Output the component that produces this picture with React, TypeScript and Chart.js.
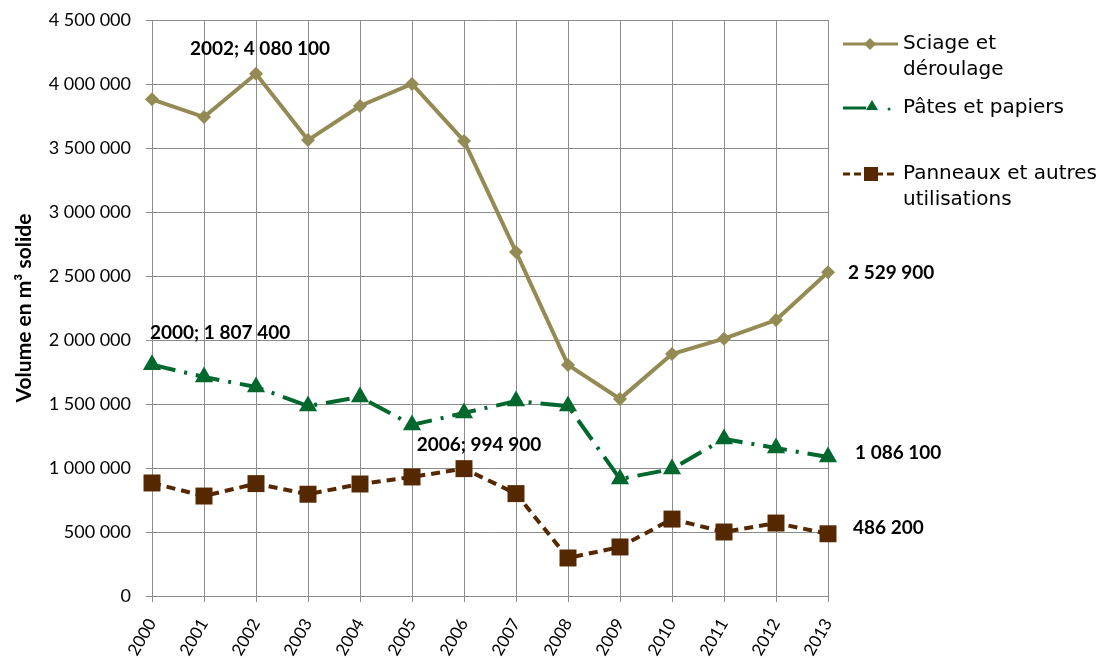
import React, { useEffect, useRef } from "react";
import { Chart, registerables } from "chart.js";

Chart.register(...registerables);

const years = ["2000","2001","2002","2003","2004","2005","2006","2007","2008","2009","2010","2011","2012","2013"];
const sciage = [3880000, 3742000, 4080100, 3562000, 3828000, 4000000, 3555000, 2688000, 1805000, 1540000, 1890000, 2010000, 2156000, 2529900];
const pates = [1807400, 1711000, 1633000, 1484000, 1555000, 1336000, 1430000, 1523000, 1484000, 914000, 992000, 1227000, 1156000, 1086100];
const panneaux = [883000, 781000, 878000, 795000, 875000, 930000, 994900, 800000, 297000, 383000, 601000, 500000, 570000, 486200];
const seriesNames = ["Sciage et déroulage", "Pâtes et papiers", "Panneaux et autres utilisations"];
const legendLines = [["Sciage et", "déroulage"], ["Pâtes et papiers"], ["Panneaux et autres", "utilisations"]];
const colors = ["#948A54", "#00682D", "#562800"];
const yTitle = "Volume en m³ solide";

const fmt = (v: number) => String(Math.round(v)).replace(/\B(?=(\d{3})+(?!\d))/g, " ");

const annotations: [number, number, string][] = [
  [0, 2, "yearval"],
  [1, 0, "yearval"],
  [2, 6, "yearval"],
  [0, 13, "val"],
  [1, 13, "val"],
  [2, 13, "val"],
];
const annOffsets: [number, number, CanvasTextAlign][] = [
  [4, -25, "center"],
  [-2, -32, "left"],
  [15, -24, "center"],
  [20, 1, "left"],
  [27, -4, "left"],
  [25, -6, "left"],
];

const labelFont = "bold 19px Lato, sans-serif";
const tickFont = { family: "Lato, sans-serif", size: 18 };

const annPlugin = {
  id: "annPlugin",
  afterDatasetsDraw(chart: any) {
    const ctx = chart.ctx;
    ctx.save();
    ctx.font = labelFont;
    ctx.fillStyle = "#000";
    ctx.textBaseline = "middle";
    annotations.forEach(([di, pi, kind], k) => {
      const el = chart.getDatasetMeta(di).data[pi];
      const val = chart.data.datasets[di].data[pi];
      const text = kind === "yearval" ? `${years[pi]}; ${fmt(val)}` : fmt(val);
      const [dx, dy, align] = annOffsets[k];
      ctx.textAlign = align;
      ctx.fillText(text, el.x + dx, el.y + dy);
    });
    ctx.restore();
  },
};

const legendPlugin = {
  id: "customLegend",
  afterDraw(chart: any) {
    const ctx = chart.ctx;
    const x0 = 843, x1 = 898, tx = 903;
    const ys = [44, 108, 174];
    ctx.save();
    ctx.font = "20px 'DejaVu Sans', sans-serif";
    ctx.textBaseline = "middle";
    ctx.textAlign = "left";
    ys.forEach((y, i) => {
      ctx.strokeStyle = colors[i];
      ctx.fillStyle = colors[i];
      ctx.lineWidth = 3;
      if (i === 0) {
        ctx.setLineDash([]);
        ctx.beginPath(); ctx.moveTo(x0, y); ctx.lineTo(x1, y); ctx.stroke();
        const r = 6;
        ctx.beginPath(); ctx.moveTo(870, y - r); ctx.lineTo(870 + r, y); ctx.lineTo(870, y + r); ctx.lineTo(870 - r, y); ctx.closePath(); ctx.fill();
      } else if (i === 1) {
        ctx.setLineDash([]);
        ctx.beginPath(); ctx.moveTo(x0, y); ctx.lineTo(866, y); ctx.stroke();
        ctx.beginPath(); ctx.moveTo(872, y - 8); ctx.lineTo(878, y + 2); ctx.lineTo(866, y + 2); ctx.closePath(); ctx.fill();
        ctx.beginPath(); ctx.arc(889, y + 1, 1.5, 0, Math.PI * 2); ctx.fill();
      } else {
        ctx.setLineDash([7, 4]);
        ctx.beginPath(); ctx.moveTo(x0, y); ctx.lineTo(x1, y); ctx.stroke();
        ctx.setLineDash([]);
        ctx.fillRect(864, y - 7, 14, 14);
      }
      ctx.fillStyle = "#000";
      legendLines[i].forEach((line, li) => {
        ctx.fillText(line, tx, y + li * 26);
      });
    });
    ctx.restore();
  },
};

export default function App() {
  const ref = useRef<HTMLCanvasElement | null>(null);
  useEffect(() => {
    if (!ref.current) return;
    const chart = new Chart(ref.current, {
      type: "line",
      data: {
        labels: years,
        datasets: [
          {
            label: seriesNames[0],
            data: sciage,
            borderColor: colors[0],
            backgroundColor: colors[0],
            borderWidth: 4,
            pointStyle: "rectRot",
            pointRadius: 7,
            pointBorderWidth: 0,
            tension: 0,
          },
          {
            label: seriesNames[1],
            data: pates,
            borderColor: colors[1],
            backgroundColor: colors[1],
            borderWidth: 4,
            borderDash: [24, 9, 3, 9],
            pointStyle: "triangle",
            pointRadius: 10.5,
            pointBorderWidth: 0,
            tension: 0,
          },
          {
            label: seriesNames[2],
            data: panneaux,
            borderColor: colors[2],
            backgroundColor: colors[2],
            borderWidth: 4,
            borderDash: [9, 6],
            pointStyle: "rect",
            pointRadius: 12,
            pointBorderWidth: 0,
            tension: 0,
          },
        ],
      },
      options: {
        animation: false,
        responsive: false,
        layout: { padding: { top: 20, right: 275, left: 0, bottom: 0 } },
        plugins: {
          legend: { display: false },
          tooltip: { enabled: false },
        },
        scales: {
          x: {
            offset: false,
            grid: { color: "#8c8c8c", lineWidth: 1, tickLength: 6, drawTicks: true },
            border: { color: "#8c8c8c" },
            ticks: {
              color: "#000",
              font: { family: "Lato, sans-serif", size: 17 },
              minRotation: 60,
              maxRotation: 60,
              padding: 13,
            },
            afterFit: (s: any) => { s.height = 62; s.paddingLeft = 0; s.paddingRight = 0; },
          },
          y: {
            min: 0,
            max: 4500000,
            grid: { color: "#8c8c8c", lineWidth: 1, tickLength: 6 },
            border: { color: "#8c8c8c" },
            ticks: {
              stepSize: 500000,
              color: "#000",
              font: tickFont,
              padding: 15,
              callback: (v: any) => fmt(Number(v)),
            },
            title: {
              display: true,
              text: yTitle,
              color: "#000",
              font: { family: "Lato, sans-serif", size: 21, weight: "bold" },
              padding: { top: 12, bottom: 0 },
            },
            afterFit: (s: any) => { s.width = 152; s.paddingTop = 0; s.paddingBottom = 0; },
          },
        },
      },
      plugins: [annPlugin, legendPlugin],
    });
    return () => chart.destroy();
  }, []);
  return (
    <div style={{ position: "absolute", left: 0, top: 0, width: 1103, height: 658, background: "#fff" }}>
      <canvas ref={ref} width={1103} height={658} style={{ width: 1103, height: 658, display: "block" }} />
    </div>
  );
}
